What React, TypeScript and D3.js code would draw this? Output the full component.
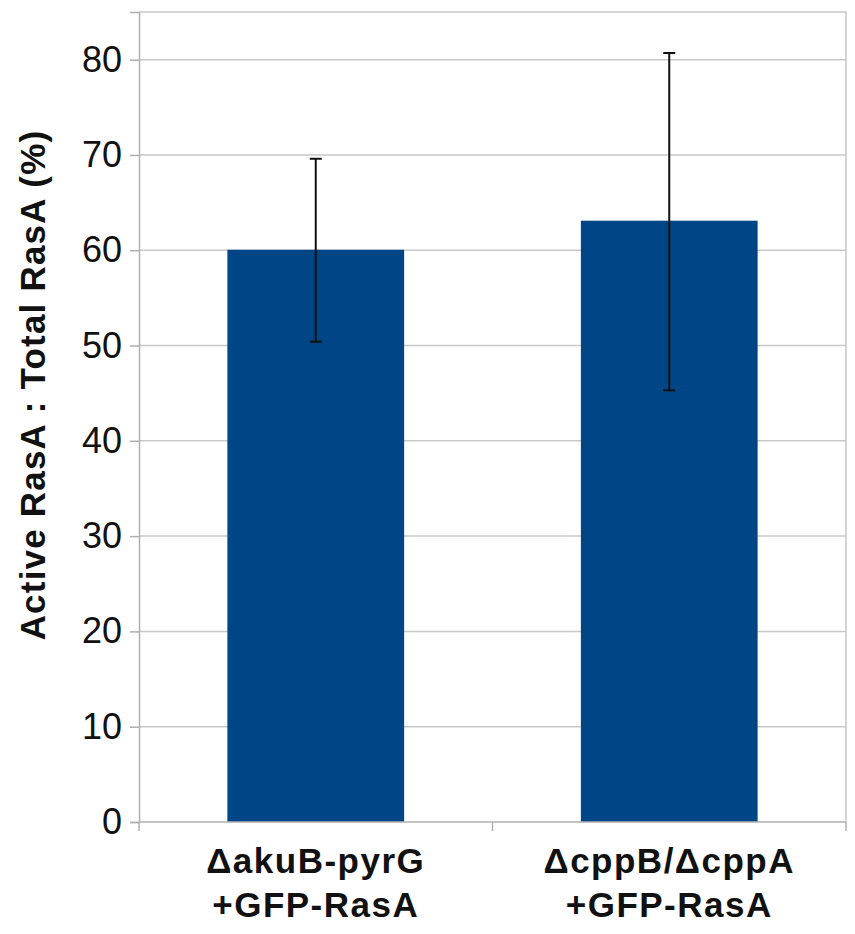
import * as d3 from "d3";
import { useEffect, useRef } from "react";

const categories = ["ΔakuB-pyrG\n+GFP-RasA", "ΔcppB/ΔcppA\n+GFP-RasA"];
const values = [60.05, 63.1];
const errLow = [50.4, 45.3];
const errHigh = [69.6, 80.7];
const yTicks = [0, 10, 20, 30, 40, 50, 60, 70, 80];
const yLabel = "Active RasA : Total RasA (%)";

const App: React.FC = () => {
  const svgRef = useRef<SVGSVGElement>(null);

  useEffect(() => {
    const svg = d3.select(svgRef.current);
    svg.selectAll("*").remove();
    const width = 855;
    const height = 934;
    const margin = { top: 12, right: 9, bottom: 112, left: 139 };
    const font = "'Liberation Sans', Arial, sans-serif";

    const xScale = d3.scaleBand()
      .domain(categories)
      .range([margin.left, width - margin.right])
      .paddingInner(0.5)
      .paddingOuter(0.25);

    const yScale = d3.scaleLinear()
      .domain([0, 85])
      .range([height - margin.bottom, margin.top]);

    // grid lines
    svg.append("g")
      .selectAll("line")
      .data(yTicks.filter((t) => t > 0))
      .join("line")
      .attr("x1", margin.left)
      .attr("x2", width - margin.right)
      .attr("y1", (d) => yScale(d))
      .attr("y2", (d) => yScale(d))
      .attr("stroke", "#c8c8c8")
      .attr("stroke-width", 1.5);

    // plot border (top + right)
    svg.append("path")
      .attr("d", `M${margin.left},${margin.top}H${width - margin.right}V${height - margin.bottom}`)
      .attr("fill", "none")
      .attr("stroke", "#c8c8c8")
      .attr("stroke-width", 1.5);

    // bars
    svg.append("g")
      .selectAll("rect")
      .data(values)
      .join("rect")
      .attr("x", (d, i) => xScale(categories[i]))
      .attr("width", xScale.bandwidth())
      .attr("y", (d) => yScale(d))
      .attr("height", (d) => yScale(0) - yScale(d))
      .attr("fill", "#004586");

    // error bars
    const eb = svg.append("g").attr("stroke", "#111").attr("stroke-width", 2);
    categories.forEach((c, i) => {
      const cx = xScale(c) + xScale.bandwidth() / 2;
      eb.append("line").attr("x1", cx).attr("x2", cx)
        .attr("y1", yScale(errLow[i])).attr("y2", yScale(errHigh[i]));
      [errLow[i], errHigh[i]].forEach((v) => {
        eb.append("line").attr("x1", cx - 6).attr("x2", cx + 6)
          .attr("y1", yScale(v)).attr("y2", yScale(v));
      });
    });

    // y axis
    const yAxis = svg.append("g")
      .attr("transform", `translate(${margin.left},0)`)
      .call(d3.axisLeft(yScale).tickValues(yTicks).tickSize(9).tickPadding(8));
    yAxis.selectAll("path").attr("stroke", "#b0b0b0").attr("stroke-width", 1.5);
    yAxis.selectAll("line").attr("stroke", "#b0b0b0").attr("stroke-width", 1.5);
    yAxis.selectAll("text")
      .attr("font-family", font)
      .attr("font-size", 36)
      .attr("fill", "#111");

    // x axis
    const bounds = [margin.left, (margin.left + width - margin.right) / 2, width - margin.right];
    const xAxis = svg.append("g");
    xAxis.append("line")
      .attr("x1", margin.left).attr("x2", width - margin.right)
      .attr("y1", yScale(0)).attr("y2", yScale(0))
      .attr("stroke", "#b0b0b0").attr("stroke-width", 1.5);
    xAxis.selectAll("line.tick")
      .data(bounds)
      .join("line")
      .attr("class", "tick")
      .attr("x1", (d) => d).attr("x2", (d) => d)
      .attr("y1", yScale(0)).attr("y2", yScale(0) + 9)
      .attr("stroke", "#b0b0b0").attr("stroke-width", 1.5);

    categories.forEach((c) => {
      const cx = xScale(c) + xScale.bandwidth() / 2;
      const t = xAxis.append("text")
        .attr("text-anchor", "middle")
        .attr("font-family", font)
        .attr("font-weight", "bold")
        .attr("font-size", 35)
        .attr("letter-spacing", 1.5)
        .attr("fill", "#111");
      c.split("\n").forEach((line, j) => {
        t.append("tspan").attr("x", cx).attr("y", yScale(0) + 51 + j * 44).text(line);
      });
    });

    // y label
    svg.append("text")
      .attr("transform", `translate(45,${(margin.top + yScale(0)) / 2 - 32}) rotate(-90)`)
      .attr("text-anchor", "middle")
      .attr("font-family", font)
      .attr("font-weight", "bold")
      .attr("font-size", 35)
      .attr("letter-spacing", 1.2)
      .attr("fill", "#111")
      .text(yLabel);
  }, []);

  return (
    <svg
      ref={svgRef}
      width={855}
      height={934}
      style={{ position: "absolute", left: 0, top: 0, background: "#fff" }}
    />
  );
};

export default App;
